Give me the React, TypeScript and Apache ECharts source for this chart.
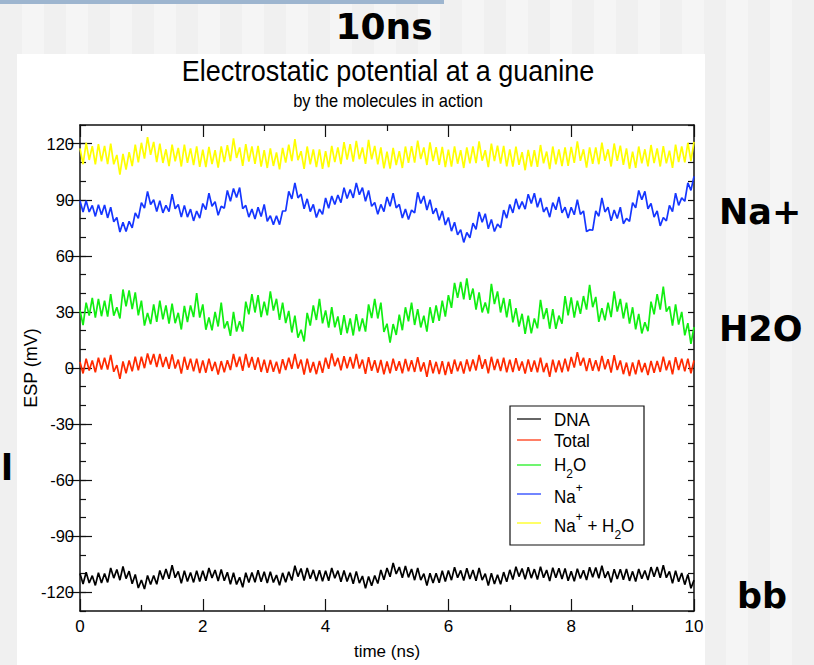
import React, { useEffect, useRef } from "react";
import * as echarts from "echarts";

// sampling: band-top value every 0.1 ns, band-bottom value halfway between
const timeStep = 0.1;
const xMin = 0;
const xMax = 10;
const yMin = -130;
const yMax = 130;
const yMajorTicks = [-120, -90, -60, -30, 0, 30, 60, 90, 120];

const seriesNames = ["DNA", "Total", "H₂O", "Na⁺", "Na⁺ + H₂O"];
const seriesColors = ["#000000", "#ff2a00", "#11ee11", "#1536ff", "#ffff00"];

const dnaHi = [
  -109.9, -109.3, -111.1, -109.5, -109.9, -107, -107.8, -106.2, -108.7, -110.5,
  -113.4, -111, -111, -108.3, -107.5, -105.5, -108.8, -108.5, -109.4, -108.4,
  -108.5, -107, -108.1, -107.8, -109.3, -109.5, -112, -109.5, -109.4, -108.2,
  -109, -109, -110.8, -109.6, -109, -105.8, -107.3, -107, -108, -108.2,
  -108.5, -107, -108.4, -108.3, -109.5, -108.8, -111.3, -111.5, -111, -108,
  -107, -104.3, -106.5, -105.9, -107.5, -107, -110, -109.8, -109.8, -108.5,
  -108.3, -106.6, -108.3, -107.1, -108.1, -107, -110, -109.8, -110.6, -109.2,
  -108, -106.3, -107.3, -106.6, -107.6, -106.3, -108.1, -106.8, -107.1, -107.2,
  -108.8, -107.4, -108.2, -106.6, -106.7, -105.8, -108.8, -107.6, -107.6, -107.5,
  -108.8, -107.5, -108.3, -106.5, -106.4, -105.5, -108.8, -108.5, -109.7, -110.5,
  -113.5,
];
const dnaLo = [
  -115.6, -115, -116.3, -115, -114.7, -112.4, -113.5, -112.7, -115.4, -117.7,
  -118.2, -115.8, -115.7, -113.2, -112.8, -112.2, -115.2, -114.2, -114.7, -114.2,
  -113.8, -112.3, -114, -113.8, -115.7, -115.8, -117.3, -114.7, -114.6, -114.4,
  -115, -114.7, -116.2, -114.6, -113.7, -111.6, -113.7, -112.8, -113.9, -114.1,
  -113.8, -112.5, -114.4, -114.2, -115.4, -115.1, -117.9, -116.5, -115.3, -113.3,
  -111.7, -110.2, -112.2, -112, -113.5, -113.5, -116.4, -115, -114.9, -114.2,
  -113.5, -112.2, -113.7, -112.9, -113.8, -113.5, -116.4, -115.5, -115.7, -114.4,
  -113.2, -111.6, -113, -112.4, -113.2, -112.2, -114, -112.2, -112.9, -113.8,
  -114.1, -112.6, -113.4, -111.9, -112.5, -112.3, -114.7, -112.9, -113.3, -113.9,
  -114.2, -112.7, -113.4, -111.7, -112.2, -112.2, -115.2, -114.4, -115.9, -117.8,
];

const totalHi = [
  3.2, 5, 4, 5.5, 5.5, 7, 1.5, 3.5, 4, 6,
  6, 7.8, 7.5, 7.5, 5.9, 7.3, 4.5, 6, 5, 5,
  4.1, 5, 3.3, 3.7, 4.2, 7.5, 6, 7.5, 5.9, 5.7,
  4.5, 4.3, 3.3, 4.7, 5.5, 7.5, 4.5, 5, 3.2, 3.8,
  5.5, 7.8, 5.4, 6.3, 5.9, 7.5, 4.5, 5.8, 4.2, 4.3,
  3.5, 5, 3.6, 4.8, 4.1, 5.8, 3, 4.2, 3.3, 3.7,
  3.3, 4.5, 3.5, 4.6, 4.5, 7, 4.7, 6, 4.8, 5.5,
  4.5, 5.2, 3.5, 4.6, 4, 5.5, 2.7, 4.5, 4, 5,
  5.9, 8.5, 5.5, 5.3, 4.2, 6.5, 4.7, 6.9, 4, 2.9,
  3, 4.3, 2.7, 3.8, 3.8, 6.1, 4, 5.8, 5, 5,
  4,
];
const totalLo = [
  -2.9, -1.3, -2.3, -0.8, -0.8, -2, -5.8, -2.8, -1.8, -1.3,
  -0.1, 1.9, 0.5, 0.5, -0.4, -0.3, -3, -1, -1.8, -2.7,
  -2.5, -1.6, -3.5, -2.3, -1.1, 0.5, -1.5, 0.2, -1, -2.1,
  -2.6, -2, -3, -1.1, -0.5, -0.3, -3.5, -2.4, -3.3, -2.6,
  -0.4, 0.9, -1.2, -0.2, -0.3, -0.3, -3.1, -1.5, -2.5, -3.4,
  -2.8, -1.5, -2.8, -1.8, -2.1, -1.9, -4.7, -2.8, -3.3, -3.8,
  -3.1, -1.8, -3, -1.7, -1.3, -0.4, -2.9, -1.1, -1.6, -2.3,
  -2.2, -1.4, -3, -2, -2.3, -2.2, -4.7, -2.3, -2.3, -1.8,
  0.2, 1.3, -1.6, -1.5, -1.7, -0.7, -2.5, -1.1, -3.3, -4.3,
  -3.4, -2.3, -3.8, -2.5, -2.1, -1.2, -3.4, -1.1, -1.8, -2.8,
];

const waterHi = [
  30.8, 35, 37.5, 37, 36, 39.5, 32.5, 42, 41.5, 40.5,
  36, 29.5, 34, 36, 33.5, 34.5, 29.5, 33.2, 33.5, 40,
  34, 27, 30, 35, 25, 30, 25, 35.5, 39.5, 39,
  35.5, 41, 37, 35, 30.5, 28, 20.5, 29.5, 33.5, 37,
  30.8, 32.5, 27.6, 28.3, 26.5, 28.8, 26.5, 34, 37, 35,
  23.7, 23.5, 28.5, 32.5, 35, 31.5, 28, 32.5, 33.5, 36,
  39, 45.5, 46, 48, 42.5, 40.5, 35, 45, 41, 37.5,
  36.8, 32, 29, 28, 26.5, 36.5, 32, 31.5, 28, 38.5,
  37.8, 36, 38.5, 44.5, 38, 32, 35, 41, 37, 35,
  32.5, 29, 24.5, 35.5, 39.5, 43.5, 33, 34, 30, 24,
  21.9,
];
const waterLo = [
  22.9, 28, 27, 27.7, 27.5, 28, 26.5, 33, 31.5, 28.2,
  22.7, 23.5, 24.7, 26, 23.7, 24, 20.6, 24.6, 27.2, 27,
  20.5, 20.2, 22.2, 21.2, 17.2, 19.5, 19.5, 28.7, 29.7, 27.2,
  28.2, 30.7, 25.7, 24, 19, 16.2, 14.2, 22.7, 25.7, 23.9,
  21.6, 21.8, 17.7, 18.6, 17.4, 19.6, 19.5, 26.7, 26.5, 19.3,
  13.6, 17.7, 20.2, 25, 23, 21.7, 19.5, 24.2, 25.2, 27.5,
  32.2, 37.5, 36.7, 36.5, 31.2, 29.7, 29.2, 34.2, 29.7, 27.1,
  24.4, 22.2, 18.2, 18.5, 21.2, 26.2, 21, 21, 23.7, 28.1,
  26.9, 29, 31.2, 32.5, 24.7, 25.5, 27.2, 30.2, 26.5, 23.7,
  20.7, 18.5, 19.7, 28.7, 31.2, 30.2, 22.7, 23.2, 17.5, 12.9,
];

const sodiumHi = [
  89.5, 89.5, 87, 87.3, 87.2, 86, 80.5, 78, 78.5, 83,
  88.5, 94.5, 90, 89.5, 87, 93, 87.5, 87, 85, 84,
  88, 93.5, 89, 86.5, 95, 96, 96.5, 87, 85, 86,
  87.5, 81.5, 81.5, 84, 94.5, 99, 93, 90.5, 87.5, 85,
  91, 92, 92.5, 96.5, 95.5, 99, 96.5, 95, 88.5, 87.5,
  91.5, 93.5, 87.5, 85, 84.5, 94, 92, 90, 85.5, 84,
  80.5, 78, 74, 72.5, 77.5, 83.5, 82.5, 79.5, 77, 84.5,
  87.5, 90.5, 89, 93, 93.5, 91, 86, 88.5, 91.5, 86,
  86, 90, 84, 74, 84, 91, 86, 84.5, 86, 80,
  88.5, 95, 94.5, 88, 84, 80.5, 87, 93.5, 91, 99,
  102.5,
];
const sodiumLo = [
  83.5, 83.5, 81.1, 82, 80.3, 78.2, 72.7, 73, 75, 80,
  85.5, 87.5, 83.7, 83, 83.7, 85.2, 80.7, 80.7, 78.7, 80.2,
  84.7, 86.5, 81.7, 85.5, 89.2, 91.2, 85.2, 80.7, 79.7, 81,
  78.5, 76.7, 76.7, 84, 90.5, 91, 85.2, 83.7, 80.5, 82.2,
  85.5, 87.5, 88.5, 90.7, 91, 92.7, 89.2, 86.5, 82.2, 83.7,
  86.5, 85.7, 80.2, 79.5, 83, 88, 84.5, 82.5, 79, 76.5,
  73.2, 71.2, 67.2, 69.7, 74.2, 78, 74.5, 73, 75, 80.2,
  83, 85, 85, 88, 86, 83.5, 80.7, 84.7, 83, 80.2,
  82, 82.2, 73, 73.7, 81.2, 83.5, 78.7, 80, 77.2, 78.5,
  85.7, 90, 85.2, 80.7, 76, 78.7, 83.7, 87, 89.2, 95,
];

const sodiumWaterHi = [
  117.5, 120.5, 118.7, 119.8, 118.8, 120, 114, 114.5, 115.5, 119.5,
  120.5, 123.5, 121, 120, 117, 119.5, 117.7, 119.5, 117.5, 118.5,
  116.8, 118.3, 116.5, 118.5, 119.2, 122.8, 118, 119.8, 118.6, 118.8,
  116.6, 117.5, 115.3, 117.8, 119.5, 122.5, 116, 118.5, 117, 117,
  116, 118.8, 118, 120.8, 119.8, 121.5, 118, 122, 118.8, 118,
  115.7, 117.7, 116, 118.5, 118.7, 121.7, 118, 120.7, 118.2, 118.3,
  116.8, 118.6, 116.5, 118, 118.5, 121.3, 116.5, 120, 119, 118.8,
  117, 118.4, 115.5, 116.7, 116.5, 119.3, 115.8, 118.5, 117, 118,
  118.3, 121.2, 117, 118, 118, 120.6, 117, 120.1, 119, 117.5,
  115.8, 118.5, 117, 119.3, 117.5, 118.7, 116.3, 119.5, 118.5, 120.5,
  121,
];
const sodiumWaterLo = [
  109, 111.3, 109, 110.5, 109.1, 109, 103.5, 106.2, 108, 110,
  112, 114, 110.2, 109.7, 108, 110.6, 107.8, 109.7, 108.5, 107.6,
  107.5, 109.1, 107.2, 110.1, 110.7, 112.4, 108.1, 110.4, 109.2, 107.7,
  107, 108.1, 106.3, 109.9, 110.7, 111.2, 106.5, 109, 107.5, 106.5,
  107.4, 110.1, 109.1, 111.5, 110.4, 111.7, 109.2, 111.6, 108.9, 106.8,
  106.7, 108.6, 107, 109.8, 109.9, 111.8, 108.6, 110.7, 108.7, 107.5,
  107.7, 109.3, 107, 109.5, 109.6, 110.9, 107.5, 110.7, 109.4, 107.9,
  107.7, 108.7, 105.8, 107.8, 107.6, 109.5, 106.4, 109, 108, 108.1,
  109.7, 110.8, 107.2, 109.2, 109, 110.8, 107.8, 110.8, 108.7, 106.6,
  107.1, 109.5, 107.9, 109.6, 107.8, 109.5, 107.1, 110.2, 110, 110.7,
];

const FONT = "'Liberation Sans', Arial, sans-serif";
const BOLD = "'DejaVu Sans', sans-serif";

function band(hi: number[], lo: number[]): [number, number][] {
  const out: [number, number][] = [];
  hi.forEach((v, k) => {
    out.push([+(k * timeStep).toFixed(2), v]);
    if (k < lo.length) out.push([+(k * timeStep + timeStep / 2).toFixed(2), lo[k]]);
  });
  return out;
}

const seriesData = [
  band(dnaHi, dnaLo),
  band(totalHi, totalLo),
  band(waterHi, waterLo),
  band(sodiumHi, sodiumLo),
  band(sodiumWaterHi, sodiumWaterLo),
];

const frameLine = { show: true, onZero: false, lineStyle: { color: "#111", width: 1.5 } };
const tickStyle = { color: "#111", width: 1.2 };

function makeOption() {
  const legendRows = [
    { y: 420, text: "DNA" },
    { y: 441, text: "Total" },
    { y: 465, text: "H{sub|2}O" },
    { y: 497, text: "Na{sup|+}" },
    { y: 526, text: "Na{sup|+} + H{sub|2}O" },
  ];
  const lineYs = [419, 440, 465, 494, 523];
  const rich = {
    sub: { fontSize: 12, fontFamily: FONT, fill: "#000", lineHeight: 12, verticalAlign: "bottom" },
    sup: { fontSize: 12, fontFamily: FONT, fill: "#000", lineHeight: 12, verticalAlign: "top" },
  };

  const graphics: any[] = [
    { type: "rect", z: -100, silent: true, shape: { x: 17, y: 54, width: 688, height: 611 }, style: { fill: "#ffffff" } },
    { type: "rect", z: -90, silent: true, shape: { x: 0, y: 0, width: 444, height: 4 }, style: { fill: "#9db5cf" } },
    { type: "text", x: 384, y: 26, style: { text: "10ns", fontFamily: BOLD, fontWeight: "bold", fontSize: 36, fill: "#000", align: "center", verticalAlign: "middle" } },
    { type: "text", x: 388, y: 70, scaleY: 1.12, style: { text: "Electrostatic potential at a guanine", fontFamily: FONT, fontSize: 27, fill: "#000", align: "center", verticalAlign: "middle" } },
    { type: "text", x: 388, y: 101, scaleY: 1.12, style: { text: "by the molecules in action", fontFamily: FONT, fontSize: 16.5, fill: "#000", align: "center", verticalAlign: "middle" } },
    { type: "text", x: 719, y: 212, style: { text: "Na+", fontFamily: BOLD, fontWeight: "bold", fontSize: 35, fill: "#000", align: "left", verticalAlign: "middle" } },
    { type: "text", x: 719, y: 329, style: { text: "H2O", fontFamily: BOLD, fontWeight: "bold", fontSize: 35, fill: "#000", align: "left", verticalAlign: "middle" } },
    { type: "text", x: 737, y: 596, style: { text: "bb", fontFamily: BOLD, fontWeight: "bold", fontSize: 35, fill: "#000", align: "left", verticalAlign: "middle" } },
    { type: "text", x: 1, y: 468, style: { text: "l", fontFamily: BOLD, fontWeight: "bold", fontSize: 35, fill: "#000", align: "left", verticalAlign: "middle" } },
    { type: "rect", z: 10, shape: { x: 510, y: 406, width: 134, height: 139 }, style: { fill: "#ffffff", stroke: "#111", lineWidth: 1.2 } },
  ];
  seriesNames.forEach((name, i) => {
    graphics.push({
      type: "line", z: 11,
      shape: { x1: 517, y1: lineYs[i], x2: 541, y2: lineYs[i] },
      style: { stroke: seriesColors[i], lineWidth: 1.2 },
    });
    graphics.push({
      type: "text", z: 11, x: 554, y: legendRows[i].y, scaleY: 1.1,
      style: {
        text: legendRows[i].text, fontFamily: FONT, fontSize: 17, fill: "#000",
        lineHeight: 28, align: "left", verticalAlign: "middle", rich,
      },
    });
  });

  const xBase = {
    type: "value", min: xMin, max: xMax, interval: 2,
    axisLine: frameLine,
    axisTick: { show: true, inside: true, length: 12, lineStyle: tickStyle },
    minorTick: { show: true, splitNumber: 2, length: 6, lineStyle: tickStyle },
    splitLine: { show: false },
    minorSplitLine: { show: false },
  };
  const yMinorBase = {
    type: "value", min: yMin, max: yMax, interval: 10,
    axisLine: frameLine,
    axisTick: { show: true, inside: true, length: 6, lineStyle: tickStyle },
    splitLine: { show: false },
  };
  const yMajorBase = {
    type: "value", min: yMin, max: yMax,
    axisLine: { show: false },
    axisTick: { show: true, inside: true, length: 12, lineStyle: tickStyle, customValues: yMajorTicks },
    axisLabel: { show: false },
    splitLine: { show: false },
  };

  return {
    animation: false,
    backgroundColor: "transparent",
    grid: { left: 80, top: 125, width: 614, height: 491, containLabel: false },
    xAxis: [
      {
        ...xBase, position: "bottom",
        axisLabel: { color: "#000", fontFamily: FONT, fontSize: 17, margin: 7 },
        name: "time (ns)", nameLocation: "middle", nameGap: 32, nameMoveOverlap: false,
        nameTextStyle: { color: "#000", fontFamily: FONT, fontSize: 17 },
      },
      { ...xBase, position: "top", axisLabel: { show: false } },
    ],
    yAxis: [
      {
        ...yMinorBase, position: "left",
        axisLabel: { show: true, customValues: yMajorTicks, color: "#000", fontFamily: FONT, fontSize: 16.5, margin: 6 },
        name: "ESP (mV)", nameLocation: "middle", nameGap: 40, nameRotate: 90, nameMoveOverlap: false,
        nameTextStyle: { color: "#000", fontFamily: FONT, fontSize: 18 },
      },
      { ...yMajorBase, position: "left" },
      { ...yMinorBase, position: "right", axisLabel: { show: false } },
      { ...yMajorBase, position: "right" },
    ],
    graphic: { elements: graphics },
    series: seriesNames.map((name, i) => ({
      name,
      type: "line",
      xAxisIndex: 0,
      yAxisIndex: 0,
      data: seriesData[i],
      showSymbol: false,
      symbol: "none",
      lineStyle: { color: seriesColors[i], width: 1.7 },
      itemStyle: { color: seriesColors[i] },
      z: 2 + i,
    })),
  };
}

export default function App() {
  const ref = useRef<HTMLDivElement>(null);
  useEffect(() => {
    if (!ref.current) return;
    const chart = echarts.init(ref.current, undefined, { renderer: "svg" });
    chart.setOption(makeOption() as any);
    return () => chart.dispose();
  }, []);
  return (
    <div
      ref={ref}
      style={{
        position: "absolute",
        left: 0,
        top: 0,
        width: 814,
        height: 665,
        background:
          "repeating-linear-gradient(90deg, #f0f0f0 0px, #f0f0f0 22px, #f5f5f5 22px, #f5f5f5 44px)",
      }}
    />
  );
}
